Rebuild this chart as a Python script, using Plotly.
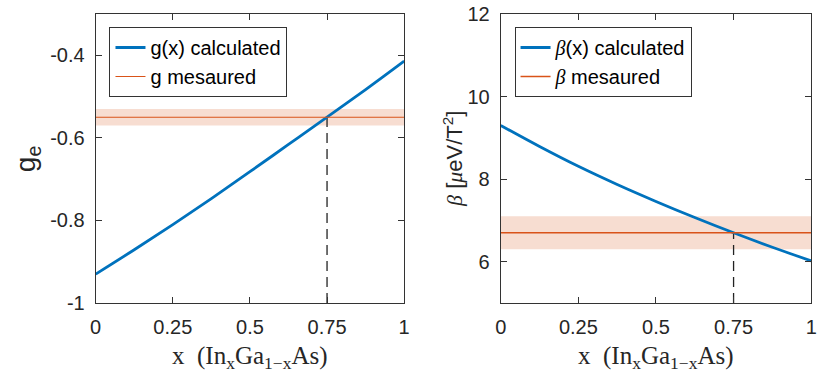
import plotly.graph_objects as go

# composition x of In(x)Ga(1-x)As
x_vals = [0, 0.125, 0.25, 0.375, 0.5, 0.625, 0.75, 0.875, 1]
# calculated electron g factor
g_calc = [-0.93, -0.871, -0.810, -0.747, -0.682, -0.616, -0.550, -0.483, -0.414]
# calculated diamagnetic coefficient (ueV/T^2)
beta_calc = [9.30, 8.79, 8.31, 7.87, 7.46, 7.07, 6.70, 6.35, 6.02]

g_meas = -0.55
g_err = 0.02
beta_meas = 6.7
beta_err = 0.4
x_match = 0.75

x_ticks = [0, 0.25, 0.5, 0.75, 1]
x_ticktext = ["0", "0.25", "0.5", "0.75", "1"]
g_ticks = [-1, -0.8, -0.6, -0.4]
g_ticktext = ["-1", "-0.8", "-0.6", "-0.4"]
beta_ticks = [6, 8, 10, 12]

blue = "#0072BD"
orange = "#D95319"
band = "rgba(217,83,25,0.2)"
txt = "#262626"
beta_txt = "<i><span style='font-family:Liberation Serif'>β</span></i>"

fig = go.Figure()

# left panel
fig.add_trace(go.Scatter(x=[0, 1, 1, 0], y=[g_meas - g_err, g_meas - g_err, g_meas + g_err, g_meas + g_err],
                         fill="toself", fillcolor=band, line=dict(width=0), mode="lines",
                         showlegend=False, hoverinfo="skip", xaxis="x", yaxis="y"))
fig.add_trace(go.Scatter(x=[x_match, x_match], y=[-1, g_meas], mode="lines",
                         line=dict(color="#222222", width=1.3, dash="10px,6px"), showlegend=False, xaxis="x", yaxis="y"))
fig.add_trace(go.Scatter(x=x_vals, y=g_calc, mode="lines", line=dict(color=blue, width=2.8, shape="spline"),
                         name="g(x) calculated", legend="legend", xaxis="x", yaxis="y"))
fig.add_trace(go.Scatter(x=[0, 1], y=[g_meas, g_meas], mode="lines", line=dict(color=orange, width=1.1),
                         name="g mesaured", legend="legend", xaxis="x", yaxis="y"))

# right panel
fig.add_trace(go.Scatter(x=[0, 1, 1, 0], y=[beta_meas - beta_err, beta_meas - beta_err, beta_meas + beta_err, beta_meas + beta_err],
                         fill="toself", fillcolor=band, line=dict(width=0), mode="lines",
                         showlegend=False, hoverinfo="skip", xaxis="x2", yaxis="y2"))
fig.add_trace(go.Scatter(x=[x_match, x_match], y=[5, beta_meas], mode="lines",
                         line=dict(color="#222222", width=1.3, dash="10px,6px"), showlegend=False, xaxis="x2", yaxis="y2"))
fig.add_trace(go.Scatter(x=x_vals, y=beta_calc, mode="lines", line=dict(color=blue, width=2.8, shape="spline"),
                         name=beta_txt + "(x) calculated", legend="legend2", xaxis="x2", yaxis="y2"))
fig.add_trace(go.Scatter(x=[0, 1], y=[beta_meas, beta_meas], mode="lines", line=dict(color=orange, width=1.4),
                         name=beta_txt + " mesaured", legend="legend2", xaxis="x2", yaxis="y2"))

axis_style = dict(showline=True, linecolor="#333333", linewidth=1, mirror="ticks", ticks="inside",
                  ticklen=6, tickcolor="#333333", showgrid=False, zeroline=False, ticklabelstandoff=6,
                  tickfont=dict(family="Arial", size=20, color=txt))

legend_style = dict(xanchor="left", yanchor="top", bgcolor="white", bordercolor="#333333", borderwidth=1,
                    font=dict(family="Arial", size=20, color="black"), tracegroupgap=0, itemwidth=30,
                    traceorder="normal")

fig.update_layout(
    width=830, height=375,
    margin=dict(l=0, r=0, t=14, b=72),
    plot_bgcolor="white", paper_bgcolor="white",
    xaxis=dict(domain=[91 / 830, 404 / 830], range=[0, 1], tickvals=x_ticks, ticktext=x_ticktext, anchor="y", **axis_style),
    yaxis=dict(range=[-1, -0.3], tickvals=g_ticks, ticktext=g_ticktext, anchor="x", **axis_style),
    xaxis2=dict(domain=[502 / 830, 817 / 830], range=[0, 1], tickvals=x_ticks, ticktext=x_ticktext, anchor="y2", **axis_style),
    yaxis2=dict(range=[5, 12], tickvals=beta_ticks, anchor="x2", **axis_style),
    legend=dict(x=105 / 830, y=0.955, **legend_style),
    legend2=dict(x=516 / 830, y=0.955, **legend_style),
    showlegend=True,
)

# axis titles
xlabel = "x  (In<sub>x</sub>Ga<sub>1−x</sub>As)"
for cx in [(91 + 404) / 2 / 830, (502 + 817) / 2 / 830]:
    fig.add_annotation(text=xlabel, x=cx, y=-0.187, xref="paper", yref="paper", xanchor="center", yanchor="middle",
                       showarrow=False, font=dict(family="Liberation Serif", size=25, color=txt))
fig.add_annotation(text="g<sub>e</sub>", x=22 / 830, y=0.5, xref="paper", yref="paper", xanchor="center",
                   textangle=-90, showarrow=False, font=dict(family="Arial", size=28, color=txt))
fig.add_annotation(text=beta_txt + " [<i><span style='font-family:Liberation Serif'>μ</span></i>eV/T<sup>2</sup>]",
                   x=453 / 830, y=0.5, xref="paper", yref="paper", xanchor="center", textangle=-90, showarrow=False,
                   font=dict(family="Arial", size=22, color=txt))

# page body has an 8px margin by default, drop it so the figure sits at the corner
fig.write_html("out.html", config={"displayModeBar": False},
               post_script="document.body.style.margin='0';")
